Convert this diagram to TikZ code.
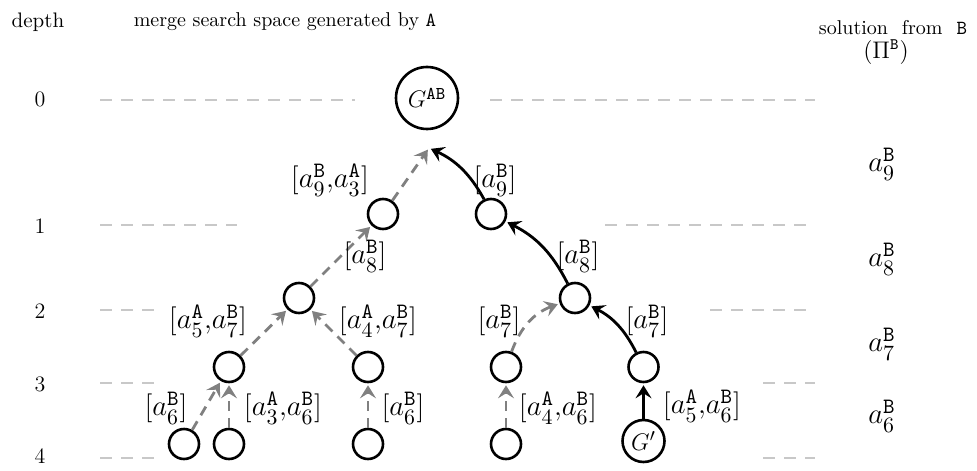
\documentclass[tikz,border=0pt]{standalone}
\usepackage{amsmath}
\usetikzlibrary{arrows.meta}
\definecolor{rulegray}{RGB}{200,200,200}
\definecolor{edgegray}{RGB}{128,128,128}
\newcommand{\lblA}{\mathtt{A}}
\newcommand{\lblB}{\mathtt{B}}
\begin{document}
\begin{tikzpicture}[x=0.5pt,y=-0.5pt,
  state/.style={circle,draw,line width=1.3pt,minimum size=15pt,inner sep=0pt},
  bigstate/.style={state,minimum size=31pt,font=\fontsize{13}{15}\selectfont},
  gpstate/.style={state,minimum size=21pt,font=\fontsize{13}{15}\selectfont},
  lbl/.style={font=\fontsize{15}{18}\selectfont,inner sep=0pt},
  headtxt/.style={font=\fontsize{10}{12}\selectfont,inner sep=0pt},
  depthtxt/.style={font=\fontsize{11}{13}\selectfont,inner sep=0pt},
  rulestyle/.style={rulegray,line width=0.7pt,dash pattern=on 6pt off 4.5pt},
  tipstyle/.style={-{Stealth[length=6.5pt,width=8pt,inset=2.5pt]}},
  grayedge/.style={edgegray,line width=1.4pt,dash pattern=on 5pt off 3.5pt,shorten >=1pt,tipstyle},
  solidedge/.style={black,line width=1.4pt,shorten >=1pt,tipstyle},
]
\useasboundingbox (0,0) rectangle (977,470);

% headers
\node[headtxt,font=\fontsize{10.5}{12}\selectfont] (hdepth) at (38,22) {depth};
\node[headtxt] (htitle) at (285,22) {merge search space generated by \texttt{A}};
\node[headtxt] (hsol) at (893,28) {solution\hspace{7pt}from\hspace{7pt}\texttt{B}};
\node[headtxt,font=\fontsize{12}{14}\selectfont] (hpi) at (886,52) {$(\Pi^{\lblB})$};

% depth numbers
\node[depthtxt] (d0) at (40,99) {0};
\node[depthtxt] (d1) at (40,226) {1};
\node[depthtxt] (d2) at (40,311) {2};
\node[depthtxt] (d3) at (40,384) {3};
\node[depthtxt] (d4) at (40,456) {4};

% depth rules
\draw[rulestyle] (100,100) -- (355,100);
\draw[rulestyle] (490,100) -- (815,100);
\draw[rulestyle] (100,225) -- (237,225);
\draw[rulestyle] (605,225) -- (815,225);
\draw[rulestyle] (100,310) -- (163,310);
\draw[rulestyle] (710,310) -- (810,310);
\draw[rulestyle] (100,383) -- (155,383);
\draw[rulestyle] (763,383) -- (815,383);
\draw[rulestyle] (100,458) -- (155,458);
\draw[rulestyle] (763,458) -- (815,458);

% nodes
\node[bigstate] (g) at (427,98) {$G^{\lblA\lblB}$};
\node[state] (n1l) at (383,214) {};
\node[state] (n1r) at (491,214) {};
\node[state] (n2l) at (299,298) {};
\node[state] (n2r) at (575,298) {};
\node[state] (n3a) at (229,367) {};
\node[state] (n3b) at (368,367) {};
\node[state] (n3c) at (506,367) {};
\node[state] (n3r) at (643.5,367) {};
\node[state] (n4a) at (184,444) {};
\node[state] (n4b) at (229,444) {};
\node[state] (n4c) at (368,444) {};
\node[state] (n4d) at (506,444) {};
\node[gpstate] (gp) at (643.5,441) {$G'$};
\coordinate (gin) at (429,148);

% edges
\draw[grayedge] (n1l) -- (gin);
\draw[solidedge] (n1r) to[bend right=18] (gin);
\draw[grayedge] (n2l) -- (n1l);
\draw[solidedge] (n2r) to[bend right=18] (n1r);
\draw[grayedge] (n3a) -- (n2l);
\draw[grayedge] (n3b) -- (n2l);
\draw[grayedge] (n3c) to[bend left=25] (n2r);
\draw[solidedge] (n3r) to[bend right=18] (n2r);
\draw[grayedge] (n4a) -- (n3a);
\draw[grayedge] (n4b) -- (n3a);
\draw[grayedge] (n4c) -- (n3b);
\draw[grayedge] (n4d) -- (n3c);
\draw[solidedge] (gp) -- (n3r);

% edge labels
\node[lbl] (l1) at (330,180) {$[a_9^{\lblB}{,}a_3^{\lblA}]$};
\node[lbl] (l2) at (495,180) {$[a_9^{\lblB}]$};
\node[lbl] (l3) at (365,256) {$[a_8^{\lblB}]$};
\node[lbl] (l4) at (578,256) {$[a_8^{\lblB}]$};
\node[lbl] (l5) at (208,321) {$[a_5^{\lblA}{,}a_7^{\lblB}]$};
\node[lbl] (l6) at (378,321) {$[a_4^{\lblA}{,}a_7^{\lblB}]$};
\node[lbl] (l7) at (499,321) {$[a_7^{\lblB}]$};
\node[lbl] (l8) at (647,321) {$[a_7^{\lblB}]$};
\node[lbl] (l9) at (166,408) {$[a_6^{\lblB}]$};
\node[lbl] (l10) at (283,408) {$[a_3^{\lblA}{,}a_6^{\lblB}]$};
\node[lbl] (l11) at (403,408) {$[a_6^{\lblB}]$};
\node[lbl] (l12) at (558,408) {$[a_4^{\lblA}{,}a_6^{\lblB}]$};
\node[lbl] (l13) at (702,406) {$[a_5^{\lblA}{,}a_6^{\lblB}]$};

% solution column
\node[lbl] (s9) at (882,164) {$a_9^{\lblB}$};
\node[lbl] (s8) at (882,259) {$a_8^{\lblB}$};
\node[lbl] (s7) at (882,344) {$a_7^{\lblB}$};
\node[lbl] (s6) at (882,416) {$a_6^{\lblB}$};
\end{tikzpicture}
\end{document}
